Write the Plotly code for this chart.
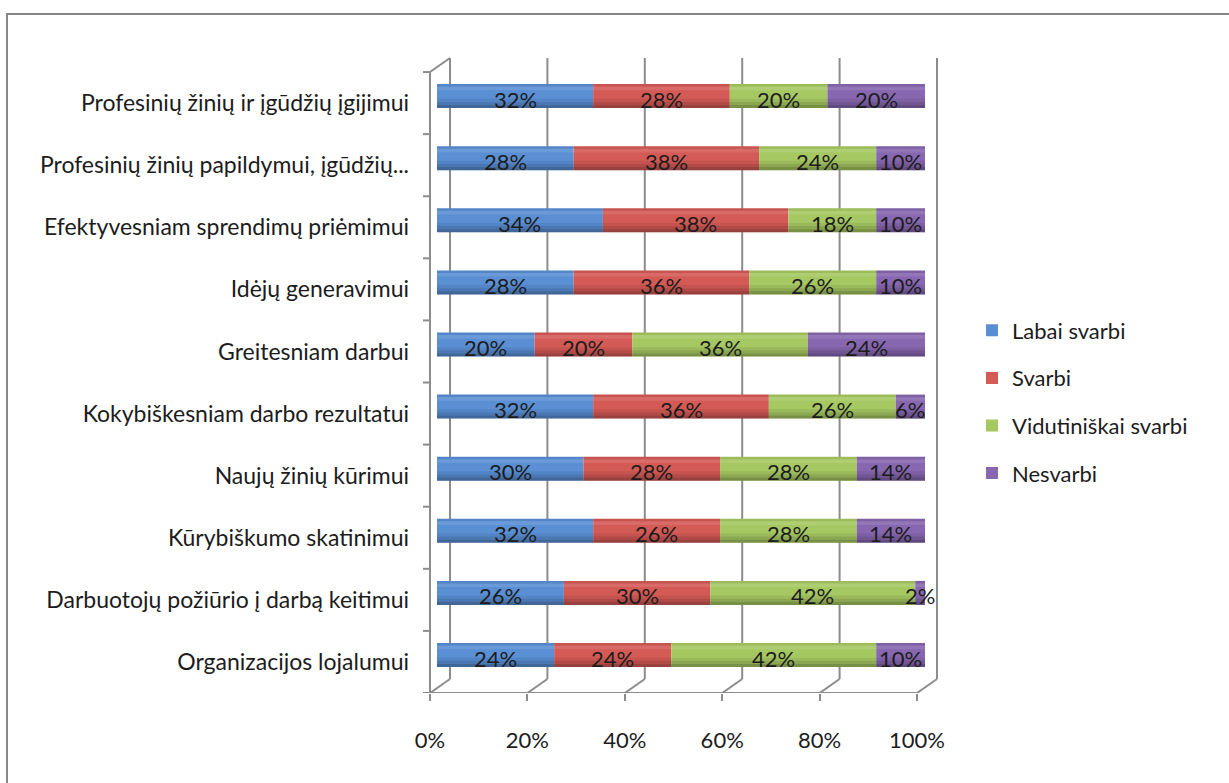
import plotly.graph_objects as go

# ---------------- data ----------------
categories = [
    "Profesinių žinių ir įgūdžių įgijimui",
    "Profesinių žinių papildymui, įgūdžių...",
    "Efektyvesniam sprendimų priėmimui",
    "Idėjų generavimui",
    "Greitesniam darbui",
    "Kokybiškesniam darbo rezultatui",
    "Naujų žinių kūrimui",
    "Kūrybiškumo skatinimui",
    "Darbuotojų požiūrio į darbą keitimui",
    "Organizacijos lojalumui",
]
series_names = ["Labai svarbi", "Svarbi", "Vidutiniškai svarbi", "Nesvarbi"]
labai_svarbi = [32, 28, 34, 28, 20, 32, 30, 32, 26, 24]
svarbi = [28, 38, 38, 36, 20, 36, 28, 26, 30, 24]
vidutiniskai_svarbi = [20, 24, 18, 26, 36, 26, 28, 28, 42, 42]
nesvarbi = [20, 10, 10, 10, 24, 6, 14, 14, 2, 10]
x_ticks = [0, 20, 40, 60, 80, 100]

# ---------------- style ----------------
colors = ["#5a8fd4", "#d45a56", "#a6c862", "#8767b0"]
grid_col = "#8c8c8c"
text_col = "#1c1c1c"
FONT = "Lato"

n = len(categories)
pos = [n - 1 - i for i in range(n)]  # top category highest
series = [labai_svarbi, svarbi, vidutiniskai_svarbi, nesvarbi]

BAR_W = 0.386
fig = go.Figure()

starts = []
run = [0] * n
for vals in series:
    starts.append(list(run))
    run = [r + v for r, v in zip(run, vals)]

for name, vals, base, col in zip(series_names, series, starts, colors):
    fig.add_trace(go.Bar(
        name=name, x=vals, y=pos, base=base, orientation="h",
        width=BAR_W, marker=dict(color=col, line=dict(width=0)),
        legendgroup=name, hoverinfo="skip",
    ))

# cylinder shading bands (same segments, translucent overlays)
all_x = [v for vals in series for v in vals]
all_base = [b for base in starts for b in base]
all_y = [p for _ in series for p in pos]
bands = [
    (-BAR_W / 2, 0.05, "rgba(0,0,0,0.28)"),
    (-BAR_W / 2 + 0.05, 0.05, "rgba(0,0,0,0.16)"),
    (-BAR_W / 2 + 0.10, 0.05, "rgba(0,0,0,0.07)"),
    (BAR_W / 2 - 0.1, 0.06, "rgba(255,255,255,0.10)"),
    (BAR_W / 2 - 0.04, 0.04, "rgba(0,0,0,0.06)"),
]
for off, w, c in bands:
    fig.add_trace(go.Bar(
        x=all_x, y=all_y, base=all_base, orientation="h",
        width=w, offset=off, marker=dict(color=c, line=dict(width=0)),
        showlegend=False, hoverinfo="skip",
    ))

# data labels
for vals, base in zip(series, starts):
    for v, b, p in zip(vals, base, pos):
        fig.add_annotation(
            x=b + v / 2, y=p, xref="x", yref="y", text=f"{v}%",
            showarrow=False, yshift=-3,
            font=dict(family=FONT, size=22, color=text_col),
        )

# ---------------- 3D frame ----------------
DX = 20 / 4.87
DY = 14 / 62.1
line = dict(color=grid_col, width=2)
shapes = []
for t in x_ticks:
    shapes.append(dict(type="line", xref="x2", yref="y2", x0=t + DX, x1=t + DX,
                       y0=-0.5 + DY, y1=n - 0.5 + DY, line=line, layer="below"))
    shapes.append(dict(type="line", xref="x2", yref="y2", x0=t, x1=t + DX,
                       y0=-0.5, y1=-0.5 + DY, line=line, layer="below"))
shapes.append(dict(type="line", xref="x2", yref="y2", x0=0, x1=0,
                   y0=-0.5, y1=n - 0.5, line=line, layer="below"))
shapes.append(dict(type="line", xref="x2", yref="y2", x0=0, x1=DX,
                   y0=n - 0.5, y1=n - 0.5 + DY, line=line, layer="below"))
shapes.append(dict(type="line", xref="x2", yref="y2", x0=0, x1=x_ticks[-1],
                   y0=-0.5, y1=-0.5, line=line, layer="below"))
for k in range(n + 1):
    shapes.append(dict(type="line", xref="x2", yref="y2", x0=-7 / 4.87, x1=0,
                       y0=-0.5 + k, y1=-0.5 + k, line=line, layer="below"))
# outer chart border
shapes.append(dict(type="rect", xref="paper", yref="paper",
                   x0=(7 - 420) / 525, x1=(1240 - 420) / 525,
                   y0=(693 - 800) / 643, y1=(693 - 14) / 643,
                   line=dict(color="#878787", width=2), fillcolor="rgba(0,0,0,0)"))

# invisible trace to activate the x2/y2 axes
fig.add_trace(go.Scatter(x=[None], y=[None], xaxis="x2", yaxis="y2",
                         showlegend=False, hoverinfo="skip"))

fig.update_layout(
    width=1229, height=783,
    margin=dict(l=420, r=284, t=50, b=90),
    paper_bgcolor="white", plot_bgcolor="white",
    barmode="overlay",
    font=dict(family=FONT, size=21, color=text_col),
    shapes=shapes,
    showlegend=True,
    legend=dict(x=(972 - 420) / 525, y=(693 - 402) / 643, xanchor="left", yanchor="middle",
                font=dict(family=FONT, size=22, color=text_col),
                tracegroupgap=16, bgcolor="rgba(0,0,0,0)"),
    xaxis=dict(range=[(420 - 437) / 4.88, (945 - 437) / 4.88], showgrid=False,
               zeroline=False, showticklabels=False, showline=False, fixedrange=True),
    yaxis=dict(range=[(655 - 693) / 62.1, (655 - 50) / 62.1], showgrid=False,
               zeroline=False, showticklabels=False, showline=False),
    xaxis2=dict(overlaying="x", anchor="y2", side="bottom",
                range=[(420 - 430) / 4.87, (945 - 430) / 4.87],
                tickvals=x_ticks, ticktext=[f"{t}%" for t in x_ticks],
                ticks="outside", ticklen=7, tickwidth=2, tickcolor=grid_col,
                showgrid=False, zeroline=False, showline=False,
                ticklabelstandoff=21,
                tickfont=dict(family=FONT, size=22, color=text_col)),
    yaxis2=dict(overlaying="y", anchor="free", position=10 / 525, side="left",
                range=[-0.5, (662 - 50) / 62.1],
                tickvals=pos, ticktext=categories, ticks="",
                showgrid=False, zeroline=False, showline=False,
                ticklabelstandoff=21,
                tickfont=dict(family=FONT, size=23, color=text_col)),
)

fig.write_html("out.html")
